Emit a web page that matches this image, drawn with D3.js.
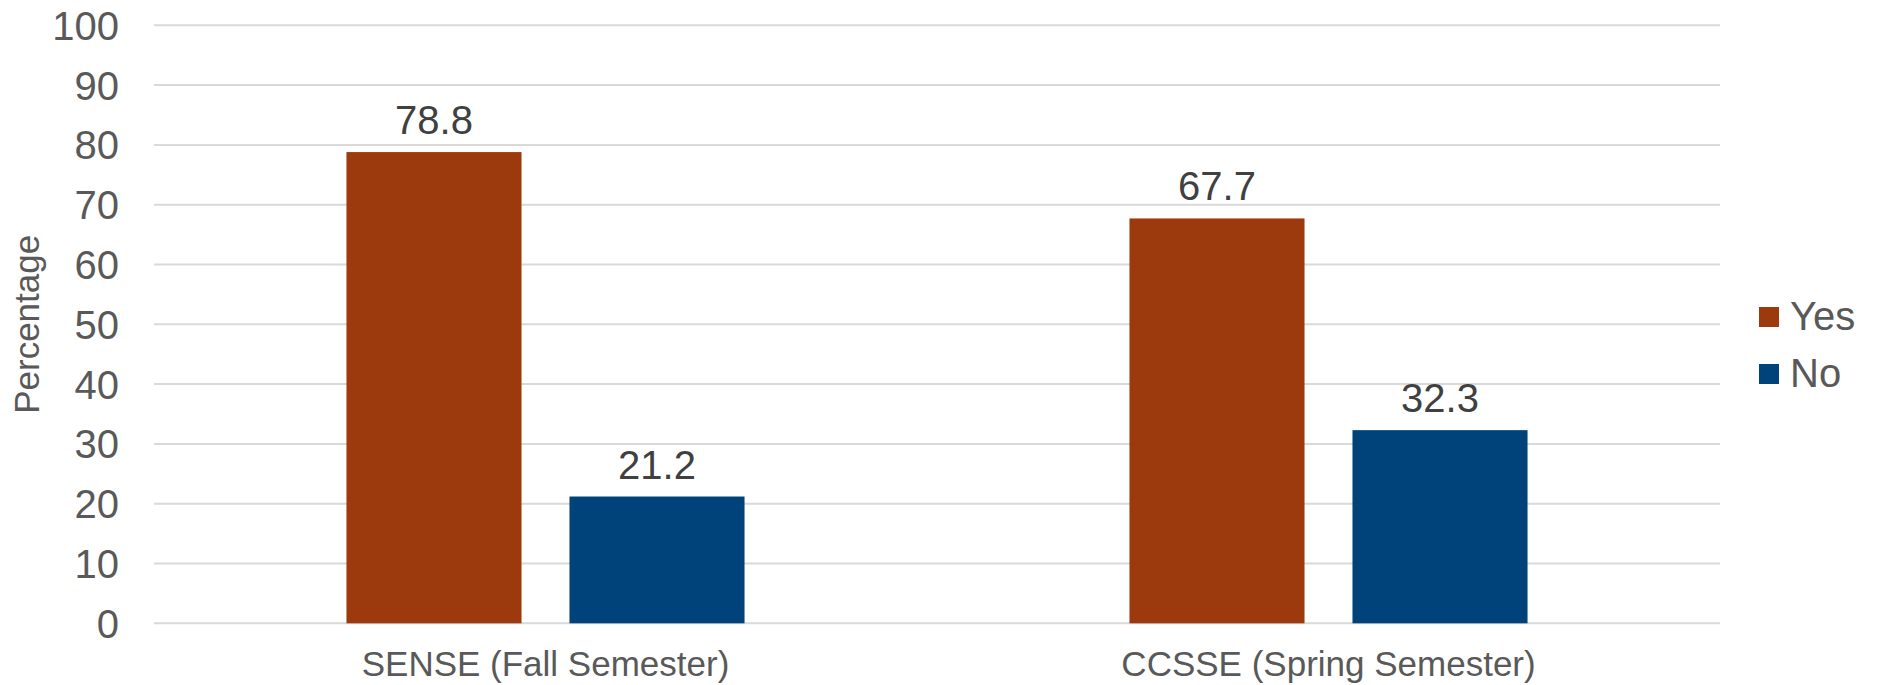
<!DOCTYPE html>
<html>
<head>
<meta charset="utf-8">
<script src="https://cdn.jsdelivr.net/npm/d3@7"></script>
<style>
  html, body { margin: 0; padding: 0; background: #fff; }
  svg { display: block; font-family: "Liberation Sans", Arial, sans-serif; }
</style>
</head>
<body>
<svg id="chart" width="1879" height="685"></svg>
<script>
const categories = ["SENSE (Fall Semester)", "CCSSE (Spring Semester)"];
const seriesNames = ["Yes", "No"];
const yesValues = [78.8, 67.7];
const noValues = [21.2, 32.3];
const yTicks = [0, 10, 20, 30, 40, 50, 60, 70, 80, 90, 100];
const seriesColors = ["#9C3A0D", "#00437A"];

const seriesValues = [yesValues, noValues];
const data = categories.map((c, i) => ({
  category: c,
  values: seriesNames.map((s, j) => ({ series: s, value: seriesValues[j][i], idx: j }))
}));

const svg = d3.select("#chart");
const margin = { left: 154, right: 1879 - 1720, top: 25.3, bottom: 685 - 623.3 };
const W = 1879, H = 685;

const x0 = d3.scaleBand().domain(categories).range([margin.left, W - margin.right]).padding(0);
const x1 = d3.scaleBand().domain(seriesNames).range([0, x0.bandwidth()])
  .paddingInner(0.215).paddingOuter(0.863);
const y = d3.scaleLinear().domain([0, 100]).range([H - margin.bottom, margin.top]);

// gridlines
svg.append("g")
  .selectAll("line")
  .data(yTicks)
  .join("line")
  .attr("x1", margin.left)
  .attr("x2", W - margin.right)
  .attr("y1", d => y(d))
  .attr("y2", d => y(d))
  .attr("stroke", "#D9D9D9")
  .attr("stroke-width", 2);

// y axis labels
const yAxis = d3.axisLeft(y).tickValues(yTicks).tickSize(0).tickPadding(0);
const yg = svg.append("g").attr("transform", `translate(${margin.left - 35},0)`).call(yAxis);
yg.select(".domain").remove();
yg.selectAll("text")
  .attr("font-family", "Liberation Sans, Arial, sans-serif")
  .attr("font-size", 40)
  .attr("fill", "#595959")
  .attr("dy", "0.35em");

// bars
const groups = svg.append("g")
  .selectAll("g")
  .data(data)
  .join("g")
  .attr("transform", d => `translate(${x0(d.category)},0)`);

groups.selectAll("rect")
  .data(d => d.values)
  .join("rect")
  .attr("x", d => x1(d.series))
  .attr("width", x1.bandwidth())
  .attr("y", d => y(d.value))
  .attr("height", d => y(0) - y(d.value))
  .attr("fill", d => seriesColors[d.idx]);

groups.selectAll("text.lbl")
  .data(d => d.values)
  .join("text")
  .attr("class", "lbl")
  .attr("x", d => x1(d.series) + x1.bandwidth() / 2)
  .attr("y", d => y(d.value) - 18)
  .attr("text-anchor", "middle")
  .attr("font-size", 40)
  .attr("fill", "#404040")
  .text(d => d.value.toFixed(1));

// x axis labels
const xAxis = d3.axisBottom(x0).tickSize(0).tickPadding(0);
const xg = svg.append("g").attr("transform", `translate(0,${y(0)})`).call(xAxis);
xg.select(".domain").remove();
xg.selectAll("text")
  .attr("font-family", "Liberation Sans, Arial, sans-serif")
  .attr("font-size", 35)
  .attr("fill", "#595959")
  .attr("dy", null)
  .attr("y", 53);

// y axis title
svg.append("text")
  .attr("transform", `translate(39,${(y(0) + y(100)) / 2}) rotate(-90)`)
  .attr("text-anchor", "middle")
  .attr("font-size", 35)
  .attr("fill", "#595959")
  .text("Percentage");

// legend
const legend = svg.append("g").attr("transform", "translate(1759,307)");
const li = legend.selectAll("g")
  .data(seriesNames)
  .join("g")
  .attr("transform", (d, i) => `translate(0,${i * 57})`);
li.append("rect")
  .attr("width", 20)
  .attr("height", 20)
  .attr("fill", (d, i) => seriesColors[i]);
li.append("text")
  .attr("x", 31)
  .attr("y", 23)
  .attr("font-size", 40)
  .attr("fill", "#595959")
  .text(d => d);
</script>
</body>
</html>
